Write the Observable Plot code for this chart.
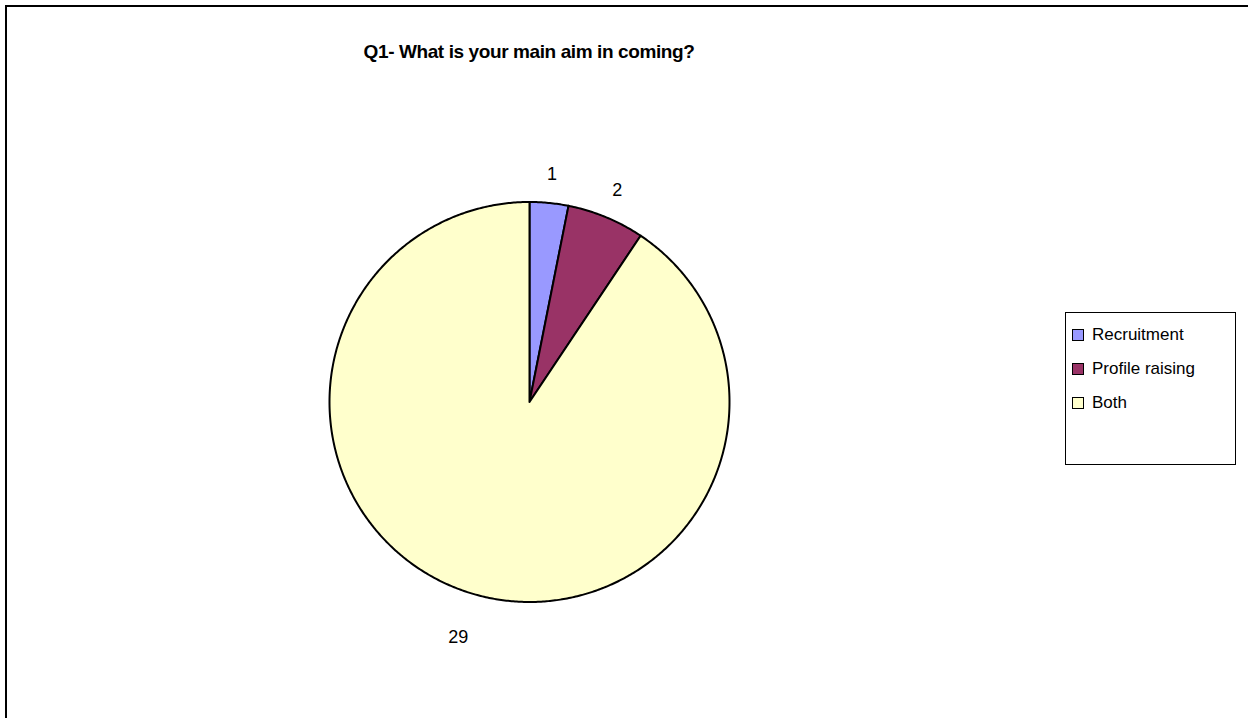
<!DOCTYPE html>
<html><head><meta charset="utf-8">
<script src="https://cdn.jsdelivr.net/npm/d3@7"></script>
<script src="https://cdn.jsdelivr.net/npm/@observablehq/plot@0.6"></script>
<style>
body{margin:0;background:#fff;font-family:"Liberation Sans",Arial,sans-serif;}
#wrap{position:relative;width:1248px;height:718px;overflow:hidden;background:#fff;}
#frame{position:absolute;left:5px;top:5px;width:1400px;height:900px;border:2px solid #000;}
#chart{position:absolute;left:0;top:0;}
#title{position:absolute;left:0;width:1058px;top:41px;text-align:center;font-weight:bold;font-size:19px;letter-spacing:-0.4px;color:#000;}
#legend{position:absolute;left:1065px;top:312px;width:171px;height:153px;border:1.5px solid #000;box-sizing:border-box;background:#fff;}
.item{position:absolute;left:6px;display:flex;align-items:center;font-size:17px;color:#000;white-space:nowrap;}
.sw{width:10px;height:10px;border:1.5px solid #000;margin-right:8px;}
</style></head>
<body><div id="wrap"><div id="frame"></div><div id="chart"></div><div id="title"></div><div id="legend"></div></div>
<script>
const title = "Q1- What is your main aim in coming?";
const categories = ["Recruitment", "Profile raising", "Both"];
const values = [1, 2, 29];
const colors = ["#9999FF", "#993366", "#FFFFCC"];

document.getElementById("title").textContent = title;

const pie = d3.pie().sort(null).startAngle(0).endAngle(2 * Math.PI)(values);
const pts = [];
const labels = [];
pie.forEach((p, i) => {
  const name = categories[i];
  pts.push({name, x: 0, y: 0});
  const n = Math.max(2, Math.ceil((p.endAngle - p.startAngle) / (Math.PI / 360)));
  for (let k = 0; k <= n; k++) {
    const a = p.startAngle + (p.endAngle - p.startAngle) * k / n;
    pts.push({name, x: Math.sin(a), y: Math.cos(a)});
  }
  pts.push({name, x: 0, y: 0});
  const m = (p.startAngle + p.endAngle) / 2;
  const r = Math.cos(m) < 0 ? 1.228 : 1.145;
  labels.push({text: String(values[i]), x: r * Math.sin(m), y: r * Math.cos(m)});
});

const chart = Plot.plot({
  width: 1248, height: 718,
  marginLeft: 329, marginRight: 519, marginTop: 201.5, marginBottom: 116.5,
  x: {domain: [-1, 1], axis: null},
  y: {domain: [-1, 1], axis: null},
  color: {domain: categories, range: colors},
  style: {background: "transparent", fontFamily: "Liberation Sans, Arial, sans-serif"},
  marks: [
    Plot.line(pts, {x: "x", y: "y", z: "name", fill: "name", stroke: "#000", strokeWidth: 2, strokeLinejoin: "round", curve: "linear"}),
    Plot.text(labels, {x: "x", y: "y", text: "text", fontSize: 18, fill: "#000"})
  ]
});
document.getElementById("chart").appendChild(chart);

const leg = document.getElementById("legend");
categories.forEach((c, i) => {
  const d = document.createElement("div");
  d.className = "item";
  d.style.top = (12 + i * 34) + "px";
  const s = document.createElement("div");
  s.className = "sw";
  s.style.background = colors[i];
  const t = document.createElement("span");
  t.textContent = c;
  d.appendChild(s); d.appendChild(t);
  leg.appendChild(d);
});
</script></body></html>
